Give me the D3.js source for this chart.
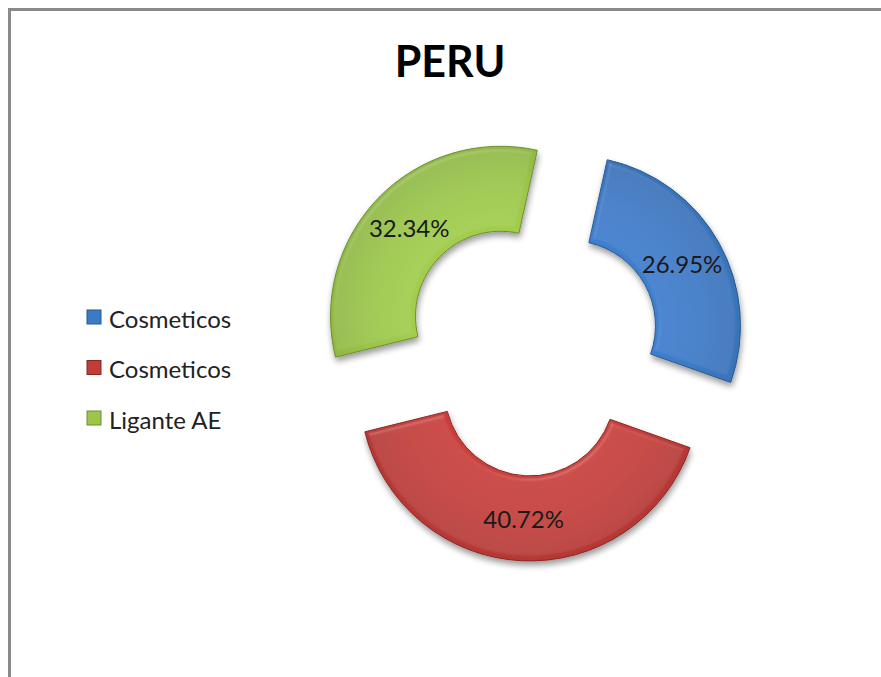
<!DOCTYPE html>
<html>
<head>
<meta charset="utf-8">
<script src="https://cdn.jsdelivr.net/npm/d3@7"></script>
<style>
  body { margin: 0; background: #fff; }
  text { font-family: Lato, "Open Sans", sans-serif; }
</style>
</head>
<body>
<script>
// ---------------- data ----------------
const categories = ["Cosmeticos", "Cosmeticos", "Ligante AE"];
const values     = [26.95, 40.72, 32.34];
const colors     = ["#3b7bc6", "#c23c38", "#9cc64a"];
const edges      = ["#2a5890", "#882624", "#6a8f30"];
const title      = "PERU";

let w = 881,
    h = 677;

// chart geometry (exploded doughnut)
let cx = 532, cy = 347,
    outerR = 170, innerR = 85,
    explode = 44,
    startA = 12.5 * Math.PI / 180;

let svg = d3.select("body")
            .append("svg")
            .attr("width", w)
            .attr("height", h);

svg.append("rect")
    .attr("width", w).attr("height", h)
    .attr("fill", "#fff");

// outer frame of the chart area (runs off right / bottom edge)
svg.append("rect")
    .attr("x", 9.5).attr("y", 9.5)
    .attr("width", 1000).attr("height", 1000)
    .attr("fill", "none")
    .attr("stroke", "#8a8a8a")
    .attr("stroke-width", 3);

// filters: soft bevel + drop shadow
let defs = svg.append("defs");
let f = defs.append("filter").attr("id", "bevel")
    .attr("x", "-20%").attr("y", "-20%").attr("width", "140%").attr("height", "140%");
f.append("feGaussianBlur").attr("in", "SourceAlpha").attr("stdDeviation", 2.5).attr("result", "blur");
f.append("feSpecularLighting").attr("in", "blur").attr("surfaceScale", 4)
    .attr("specularConstant", 0.4).attr("specularExponent", 22)
    .attr("lighting-color", "#ffffff").attr("result", "spec")
  .append("fePointLight").attr("x", -5000).attr("y", -8000).attr("z", 12000);
f.append("feComposite").attr("in", "spec").attr("in2", "SourceAlpha")
    .attr("operator", "in").attr("result", "specOut");
f.append("feComposite").attr("in", "SourceGraphic").attr("in2", "specOut")
    .attr("operator", "arithmetic").attr("k1", 0).attr("k2", 1).attr("k3", 0.25).attr("k4", 0)
    .attr("result", "lit");
f.append("feGaussianBlur").attr("in", "SourceAlpha").attr("stdDeviation", 3).attr("result", "sblur");
f.append("feOffset").attr("in", "sblur").attr("dx", 1).attr("dy", 4).attr("result", "soff");
f.append("feComponentTransfer").attr("in", "soff").attr("result", "shadow")
  .append("feFuncA").attr("type", "linear").attr("slope", 0.4);
let merge = f.append("feMerge");
merge.append("feMergeNode").attr("in", "shadow");
merge.append("feMergeNode").attr("in", "lit");

// radial shading across the ring
colors.forEach((c, i) => {
  let g = defs.append("radialGradient")
      .attr("id", "grad" + i)
      .attr("gradientUnits", "userSpaceOnUse")
      .attr("cx", 0).attr("cy", 0).attr("r", outerR);
  g.append("stop").attr("offset", innerR / outerR).attr("stop-color", d3.color(c).brighter(0.1));
  g.append("stop").attr("offset", 0.75).attr("stop-color", c);
  g.append("stop").attr("offset", 1).attr("stop-color", d3.color(c).darker(0.2));
});

let pie = d3.pie()
    .sort(null)
    .startAngle(startA)
    .endAngle(startA + 2 * Math.PI);

let arc = d3.arc()
    .innerRadius(innerR)
    .outerRadius(outerR);

let slices = pie(values);

let g = svg.append("g").attr("transform", `translate(${cx},${cy})`);

let pieces = g.selectAll("g.slice")
    .data(slices)
    .enter()
    .append("g")
    .attr("class", "slice")
    .attr("transform", d => {
        let a = (d.startAngle + d.endAngle) / 2;
        return `translate(${Math.sin(a) * explode},${-Math.cos(a) * explode})`;
    });

pieces.append("path")
    .attr("d", arc)
    .attr("fill", (d, i) => `url(#grad${i})`)
    .attr("stroke", (d, i) => edges[i])
    .attr("stroke-width", 1)
    .attr("filter", "url(#bevel)");

pieces.append("text")
    .attr("transform", d => `translate(${arc.centroid(d)})`)
    .attr("text-anchor", "middle")
    .attr("dominant-baseline", "central")
    .attr("font-size", "24px")
    .attr("fill", "#1a1a1a")
    .text(d => d.value.toFixed(2) + "%");

// title
svg.append("text")
    .attr("x", 450)
    .attr("y", 77)
    .attr("text-anchor", "middle")
    .attr("font-size", "43px")
    .attr("font-weight", "bold")
    .attr("fill", "#000")
    .text(title);

// legend
let legend = svg.selectAll("g.legend")
    .data(categories)
    .enter()
    .append("g")
    .attr("class", "legend")
    .attr("transform", (d, i) => `translate(87,${317 + i * 50.5})`);

legend.append("rect")
    .attr("x", 0).attr("y", -7)
    .attr("width", 14).attr("height", 14)
    .attr("fill", (d, i) => colors[i])
    .attr("stroke", (d, i) => edges[i])
    .attr("stroke-width", 1);

legend.append("text")
    .attr("x", 22)
    .attr("y", 1)
    .attr("dominant-baseline", "central")
    .attr("font-size", "24px")
    .attr("fill", "#222")
    .text(d => d);
</script>
</body>
</html>
